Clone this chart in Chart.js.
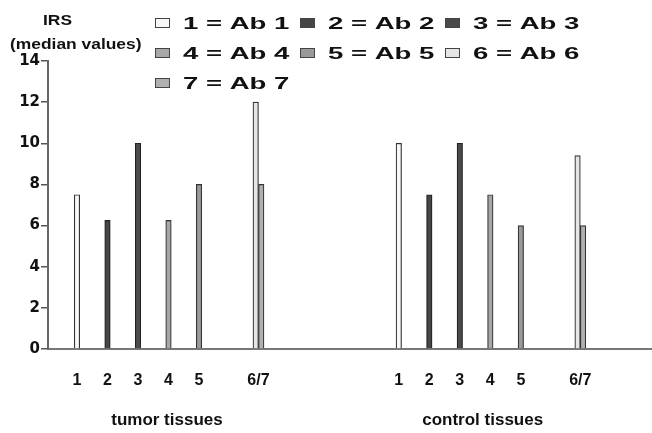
<!DOCTYPE html>
<html>
<head>
<meta charset="utf-8">
<script src="https://cdn.jsdelivr.net/npm/chart.js@4.4.1/dist/chart.umd.min.js"></script>
<style>
  html, body { margin: 0; padding: 0; background: #fff; }
  #chart { display: block; }
</style>
</head>
<body>
<canvas id="chart" width="652" height="433"></canvas>
<script>
// Dados
const groups = ['tumor tissues', 'control tissues'];
const tickLabels = ['1', '2', '3', '4', '5', '6/7'];
const abLabels = ['1 = Ab 1', '2 = Ab 2', '3 = Ab 3', '4 = Ab 4', '5 = Ab 5', '6 = Ab 6', '7 = Ab 7'];
const tumorValues = [7.5, 6.25, 10, 6.25, 8, 12, 8];
const controlValues = [10, 7.5, 10, 7.5, 6, 9.4, 6];
const yTitle = ['IRS', '(median values)'];

// Layout (posição das categorias no eixo x)
const slotPos = [0.95, 1.95, 2.95, 3.95, 4.95, 6.9];
const groupOffset = 10.55;
const groupCenters = [3.9, 14.25];
const xPositions = slotPos.concat(slotPos.map(v => v + groupOffset));

const fills = ['#f8f8f8', '#464646', '#4a4a4a', '#a8a8a8', '#9a9a9a', '#e6e6e6', '#b0b0b0'];
const borders = ['#333', '#222', '#222', '#333', '#333', '#333', '#333'];

// um dataset por anticorpo; 6 e 7 dividem a categoria "6/7"
const datasets = abLabels.map((label, k) => {
    const cat = Math.min(k, 5);
    const data = xPositions.map((x, i) => {
        let y = null;
        if (i === cat) y = tumorValues[k];
        if (i === cat + 6) y = controlValues[k];
        return { x: x, y: y };
    });
    return {
        label: label,
        data: data,
        backgroundColor: fills[k],
        borderColor: borders[k],
        borderWidth: 1.2,
        borderSkipped: 'start'
    };
});

// Título do eixo y e legenda desenhados por cima
const extrasPlugin = {
    id: 'extras',
    afterDraw(chart) {
        const ctx = chart.ctx;
        ctx.save();
        ctx.fillStyle = '#111';
        ctx.textBaseline = 'middle';
        ctx.font = 'bold 15px "Liberation Sans", Arial, sans-serif';
        const titlePos = [[43, 21], [10, 45]];
        yTitle.forEach((t, i) => {
            ctx.save();
            ctx.translate(titlePos[i][0], titlePos[i][1]);
            ctx.scale(1.16, 1);
            ctx.fillText(t, 0, 0);
            ctx.restore();
        });

        ctx.font = 'bold 17px "Liberation Sans", Arial, sans-serif';
        chart.data.datasets.forEach((ds, i) => {
            const col = i % 3, row = Math.floor(i / 3);
            const x = 155 + col * 145;
            const y = 23 + row * 30;
            ctx.fillStyle = ds.backgroundColor;
            ctx.fillRect(x, y - 4.5, 15, 9);
            ctx.strokeStyle = '#444';
            ctx.lineWidth = 1;
            ctx.strokeRect(x + 0.5, y - 4.5, 14, 9);
            ctx.save();
            ctx.translate(x + 28, y);
            ctx.scale(1.62, 1);
            ctx.fillStyle = '#111';
            ctx.fillText(ds.label, 0, 1);
            ctx.restore();
        });
        ctx.restore();
    }
};

const config = {
    type: 'bar',
    data: { datasets: datasets },
    options: {
        responsive: false,
        animation: false,
        barThickness: 5.5,
        skipNull: true,
        layout: { padding: { top: 61, right: 0, bottom: 0, left: 0 } },
        plugins: {
            legend: { display: false },
            tooltip: { enabled: false }
        },
        scales: {
            x: {
                type: 'linear',
                position: 'bottom',
                offset: false,
                min: 0,
                max: 19.8,
                afterBuildTicks: (scale) => {
                    scale.ticks = xPositions.map(v => ({ value: v }));
                },
                afterFit: (scale) => { scale.height = 48; },
                grid: { display: false, drawTicks: false, offset: false },
                border: { display: true, color: '#777', width: 2 },
                ticks: {
                    autoSkip: false,
                    maxRotation: 0,
                    padding: 22,
                    color: '#111',
                    font: { family: '"Liberation Sans", Arial, sans-serif', size: 16, weight: 'bold' },
                    callback: (value, index) => tickLabels[index % tickLabels.length]
                }
            },
            xGroup: {
                type: 'linear',
                axis: 'x',
                position: 'bottom',
                offset: false,
                min: 0,
                max: 19.8,
                afterBuildTicks: (scale) => {
                    scale.ticks = groupCenters.map(v => ({ value: v }));
                },
                afterFit: (scale) => { scale.height = 36; },
                grid: { display: false, drawTicks: false, offset: false },
                border: { display: false },
                ticks: {
                    autoSkip: false,
                    maxRotation: 0,
                    padding: 13,
                    color: '#111',
                    font: { family: '"Liberation Sans", Arial, sans-serif', size: 17, weight: 'bold' },
                    callback: (value, index) => groups[index]
                }
            },
            y: {
                min: 0,
                max: 14,
                afterFit: (scale) => { scale.width = 48; },
                grid: { drawOnChartArea: false, drawTicks: true, tickLength: 7, color: '#555', lineWidth: 1.5 },
                border: { display: true, color: '#666', width: 2 },
                ticks: {
                    stepSize: 2,
                    padding: 1,
                    color: '#111',
                    font: { family: '"DejaVu Sans", sans-serif', size: 15, weight: 'bold' }
                }
            }
        }
    },
    plugins: [extrasPlugin]
};

window.onload = function() {
    const ctx = document.getElementById('chart').getContext('2d');
    new Chart(ctx, config);
};
</script>
</body>
</html>
